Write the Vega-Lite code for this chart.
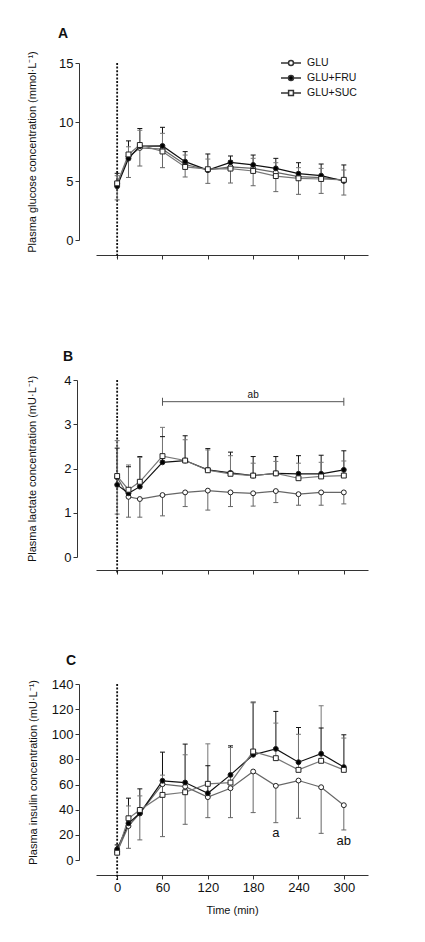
{
  "$schema": "https://vega.github.io/schema/vega-lite/v6.json",
  "padding": {"left": 26, "top": 26, "right": 5, "bottom": 5},
  "config": {
    "font": "Liberation Sans",
    "view": {"stroke": null},
    "axis": {
      "grid": false,
      "domainColor": "#333",
      "tickColor": "#333",
      "domainWidth": 1,
      "tickWidth": 1,
      "tickSize": 4,
      "labelFontSize": 13,
      "labelColor": "#111",
      "labelPadding": 2,
      "labelOverlap": false,
      "titleFontSize": 11,
      "titleFontWeight": "normal",
      "titleColor": "#111"
    },
    "title": {"fontSize": 14, "fontWeight": "bold", "anchor": "start", "frame": "group", "color": "#111"}
  },
  "datasets": {
    "glucose": [
      {"t": 0, "g": "GLU", "m": 4.8, "hi": null, "lo": 3.4},
      {"t": 0, "g": "GLU+FRU", "m": 4.55, "hi": 5.65, "lo": null},
      {"t": 0, "g": "GLU+SUC", "m": 4.8, "hi": 5.45, "lo": null},
      {"t": 15, "g": "GLU", "m": 7.05, "hi": null, "lo": 5.3},
      {"t": 15, "g": "GLU+FRU", "m": 6.9, "hi": 8.4, "lo": null},
      {"t": 15, "g": "GLU+SUC", "m": 7.25, "hi": 7.9, "lo": null},
      {"t": 30, "g": "GLU", "m": 7.8, "hi": null, "lo": 6.27},
      {"t": 30, "g": "GLU+FRU", "m": 7.95, "hi": 9.45, "lo": null},
      {"t": 30, "g": "GLU+SUC", "m": 8.05, "hi": 9.3, "lo": null},
      {"t": 60, "g": "GLU", "m": 7.7, "hi": null, "lo": 6.13},
      {"t": 60, "g": "GLU+FRU", "m": 7.97, "hi": 9.55, "lo": null},
      {"t": 60, "g": "GLU+SUC", "m": 7.5, "hi": 9.04, "lo": null},
      {"t": 90, "g": "GLU", "m": 6.4, "hi": null, "lo": 5.34},
      {"t": 90, "g": "GLU+FRU", "m": 6.64, "hi": 7.49, "lo": null},
      {"t": 90, "g": "GLU+SUC", "m": 6.19, "hi": 7.2, "lo": null},
      {"t": 120, "g": "GLU", "m": 5.95, "hi": null, "lo": 4.8},
      {"t": 120, "g": "GLU+FRU", "m": 5.92, "hi": 7.29, "lo": null},
      {"t": 120, "g": "GLU+SUC", "m": 6.0, "hi": 6.86, "lo": null},
      {"t": 150, "g": "GLU", "m": 6.2, "hi": null, "lo": 4.83},
      {"t": 150, "g": "GLU+FRU", "m": 6.58, "hi": 7.12, "lo": null},
      {"t": 150, "g": "GLU+SUC", "m": 6.05, "hi": 6.72, "lo": null},
      {"t": 180, "g": "GLU", "m": 6.07, "hi": null, "lo": 4.6},
      {"t": 180, "g": "GLU+FRU", "m": 6.36, "hi": 7.2, "lo": null},
      {"t": 180, "g": "GLU+SUC", "m": 5.85, "hi": 6.92, "lo": null},
      {"t": 210, "g": "GLU", "m": 5.73, "hi": null, "lo": 4.1},
      {"t": 210, "g": "GLU+FRU", "m": 6.07, "hi": 6.92, "lo": null},
      {"t": 210, "g": "GLU+SUC", "m": 5.42, "hi": 6.55, "lo": null},
      {"t": 240, "g": "GLU", "m": 5.37, "hi": null, "lo": 3.87},
      {"t": 240, "g": "GLU+FRU", "m": 5.62, "hi": 6.55, "lo": null},
      {"t": 240, "g": "GLU+SUC", "m": 5.23, "hi": 6.13, "lo": null},
      {"t": 270, "g": "GLU", "m": 5.28, "hi": null, "lo": 3.95},
      {"t": 270, "g": "GLU+FRU", "m": 5.45, "hi": 6.44, "lo": null},
      {"t": 270, "g": "GLU+SUC", "m": 5.17, "hi": 6.07, "lo": null},
      {"t": 300, "g": "GLU", "m": 5.08, "hi": null, "lo": 3.81},
      {"t": 300, "g": "GLU+FRU", "m": 5.0, "hi": 6.36, "lo": null},
      {"t": 300, "g": "GLU+SUC", "m": 5.1, "hi": 5.93, "lo": null}
    ],
    "lactate": [
      {"t": 0, "g": "GLU", "m": 1.8, "hi": null, "lo": 0.97},
      {"t": 0, "g": "GLU+FRU", "m": 1.63, "hi": 2.46, "lo": null},
      {"t": 0, "g": "GLU+SUC", "m": 1.83, "hi": 2.63, "lo": null},
      {"t": 15, "g": "GLU", "m": 1.36, "hi": null, "lo": 0.9},
      {"t": 15, "g": "GLU+FRU", "m": 1.44, "hi": 2.04, "lo": null},
      {"t": 15, "g": "GLU+SUC", "m": 1.52, "hi": 2.08, "lo": null},
      {"t": 30, "g": "GLU", "m": 1.31, "hi": null, "lo": 0.9},
      {"t": 30, "g": "GLU+FRU", "m": 1.59, "hi": 2.27, "lo": null},
      {"t": 30, "g": "GLU+SUC", "m": 1.7, "hi": 2.25, "lo": null},
      {"t": 60, "g": "GLU", "m": 1.4, "hi": null, "lo": 0.93},
      {"t": 60, "g": "GLU+FRU", "m": 2.14, "hi": 2.72, "lo": null},
      {"t": 60, "g": "GLU+SUC", "m": 2.28, "hi": 2.93, "lo": null},
      {"t": 90, "g": "GLU", "m": 1.46, "hi": null, "lo": 1.14},
      {"t": 90, "g": "GLU+FRU", "m": 2.18, "hi": 2.74, "lo": null},
      {"t": 90, "g": "GLU+SUC", "m": 2.18, "hi": 2.65, "lo": null},
      {"t": 120, "g": "GLU", "m": 1.5, "hi": null, "lo": 1.06},
      {"t": 120, "g": "GLU+FRU", "m": 1.97, "hi": 2.45, "lo": null},
      {"t": 120, "g": "GLU+SUC", "m": 1.96, "hi": 2.42, "lo": null},
      {"t": 150, "g": "GLU", "m": 1.46, "hi": null, "lo": 1.14},
      {"t": 150, "g": "GLU+FRU", "m": 1.9, "hi": 2.37, "lo": null},
      {"t": 150, "g": "GLU+SUC", "m": 1.88, "hi": 2.29, "lo": null},
      {"t": 180, "g": "GLU", "m": 1.44, "hi": null, "lo": 1.15},
      {"t": 180, "g": "GLU+FRU", "m": 1.84, "hi": 2.27, "lo": null},
      {"t": 180, "g": "GLU+SUC", "m": 1.84, "hi": 2.12, "lo": null},
      {"t": 210, "g": "GLU", "m": 1.49, "hi": null, "lo": 1.23},
      {"t": 210, "g": "GLU+FRU", "m": 1.89, "hi": 2.27, "lo": null},
      {"t": 210, "g": "GLU+SUC", "m": 1.89, "hi": 2.16, "lo": null},
      {"t": 240, "g": "GLU", "m": 1.42, "hi": null, "lo": 1.17},
      {"t": 240, "g": "GLU+FRU", "m": 1.88, "hi": 2.29, "lo": null},
      {"t": 240, "g": "GLU+SUC", "m": 1.78, "hi": 2.12, "lo": null},
      {"t": 270, "g": "GLU", "m": 1.46, "hi": null, "lo": 1.17},
      {"t": 270, "g": "GLU+FRU", "m": 1.88, "hi": 2.3, "lo": null},
      {"t": 270, "g": "GLU+SUC", "m": 1.82, "hi": 2.14, "lo": null},
      {"t": 300, "g": "GLU", "m": 1.46, "hi": null, "lo": 1.2},
      {"t": 300, "g": "GLU+FRU", "m": 1.97, "hi": 2.4, "lo": null},
      {"t": 300, "g": "GLU+SUC", "m": 1.84, "hi": 2.17, "lo": null}
    ],
    "insulin": [
      {"t": 0, "g": "GLU", "m": 6.5, "hi": null, "lo": null},
      {"t": 0, "g": "GLU+FRU", "m": 8.5, "hi": 12, "lo": null},
      {"t": 0, "g": "GLU+SUC", "m": 5.8, "hi": null, "lo": null},
      {"t": 15, "g": "GLU", "m": 27, "hi": null, "lo": 9.3},
      {"t": 15, "g": "GLU+FRU", "m": 29.2, "hi": 49.2, "lo": null},
      {"t": 15, "g": "GLU+SUC", "m": 33.2, "hi": 43, "lo": null},
      {"t": 30, "g": "GLU", "m": 37, "hi": null, "lo": 16},
      {"t": 30, "g": "GLU+FRU", "m": 37.2, "hi": 56.6, "lo": null},
      {"t": 30, "g": "GLU+SUC", "m": 39.8, "hi": 51, "lo": null},
      {"t": 60, "g": "GLU", "m": 60.3, "hi": null, "lo": 18.6},
      {"t": 60, "g": "GLU+FRU", "m": 63, "hi": 85.8, "lo": null},
      {"t": 60, "g": "GLU+SUC", "m": 51.8, "hi": 67.5, "lo": null},
      {"t": 90, "g": "GLU", "m": 58.4, "hi": null, "lo": 28.4},
      {"t": 90, "g": "GLU+FRU", "m": 61.6, "hi": 92.2, "lo": null},
      {"t": 90, "g": "GLU+SUC", "m": 53.9, "hi": 83.7, "lo": null},
      {"t": 120, "g": "GLU", "m": 50, "hi": null, "lo": 33.7},
      {"t": 120, "g": "GLU+FRU", "m": 53.1, "hi": 75, "lo": null},
      {"t": 120, "g": "GLU+SUC", "m": 60.6, "hi": 92.4, "lo": null},
      {"t": 150, "g": "GLU", "m": 57.1, "hi": null, "lo": 33.7},
      {"t": 150, "g": "GLU+FRU", "m": 67.7, "hi": 90.8, "lo": null},
      {"t": 150, "g": "GLU+SUC", "m": 61.6, "hi": 89.5, "lo": null},
      {"t": 180, "g": "GLU", "m": 70.4, "hi": null, "lo": 37.7},
      {"t": 180, "g": "GLU+FRU", "m": 83.7, "hi": 125.6, "lo": null},
      {"t": 180, "g": "GLU+SUC", "m": 86.3, "hi": 125, "lo": null},
      {"t": 210, "g": "GLU", "m": 59, "hi": null, "lo": 29.7},
      {"t": 210, "g": "GLU+FRU", "m": 88.4, "hi": 118.2, "lo": null},
      {"t": 210, "g": "GLU+SUC", "m": 81, "hi": 108.9, "lo": null},
      {"t": 240, "g": "GLU", "m": 63.2, "hi": null, "lo": 33.2},
      {"t": 240, "g": "GLU+FRU", "m": 77.8, "hi": 105.4, "lo": null},
      {"t": 240, "g": "GLU+SUC", "m": 71.7, "hi": 100, "lo": null},
      {"t": 270, "g": "GLU", "m": 57.9, "hi": null, "lo": 21.2},
      {"t": 270, "g": "GLU+FRU", "m": 84.5, "hi": 105, "lo": null},
      {"t": 270, "g": "GLU+SUC", "m": 78.9, "hi": 122.7, "lo": null},
      {"t": 300, "g": "GLU", "m": 43.6, "hi": null, "lo": 23.9},
      {"t": 300, "g": "GLU+FRU", "m": 73.9, "hi": 99.6, "lo": null},
      {"t": 300, "g": "GLU+SUC", "m": 71.7, "hi": 97, "lo": null}
    ]
  },
  "bounds": "flush",
  "spacing": 140,
  "resolve": {"legend": {"shape": "independent", "fill": "independent"}},
  "vconcat": [
    {
      "width": 272,
      "height": 177,
      "title": {"text": "A", "dx": -38, "offset": 10},
      "data": {"name": "glucose"},
      "resolve": {"scale": {"shape": "independent", "fill": "independent"}},
      "layer": [
        {
          "data": {"values": [{}]},
          "mark": {"type": "rule", "strokeDash": [2, 1.6], "strokeWidth": 1.8, "color": "#111"},
          "encoding": {
            "x": {"datum": 0, "type": "quantitative"},
            "y": {"datum": 15, "type": "quantitative"},
            "y2": {"datum": -1.5}
          }
        },
        {
          "transform": [{"filter": "isValid(datum.hi)"}],
          "mark": {"type": "rule", "strokeWidth": 1},
          "encoding": {
            "x": {"field": "t", "type": "quantitative"},
            "y": {"field": "m", "type": "quantitative"},
            "y2": {"field": "hi"},
            "color": {"field": "g", "type": "nominal", "scale": {"domain": ["GLU", "GLU+FRU", "GLU+SUC"], "range": ["#666", "#111", "#777"]}, "legend": null}
          }
        },
        {
          "transform": [{"filter": "isValid(datum.hi)"}],
          "mark": {"type": "tick", "orient": "horizontal", "size": 5, "thickness": 1, "opacity": 1},
          "encoding": {
            "x": {"field": "t", "type": "quantitative"},
            "y": {"field": "hi", "type": "quantitative"},
            "color": {"field": "g", "type": "nominal", "legend": null}
          }
        },
        {
          "transform": [{"filter": "isValid(datum.lo)"}],
          "mark": {"type": "rule", "strokeWidth": 1},
          "encoding": {
            "x": {"field": "t", "type": "quantitative"},
            "y": {"field": "lo", "type": "quantitative"},
            "y2": {"field": "m"},
            "color": {"field": "g", "type": "nominal", "legend": null}
          }
        },
        {
          "transform": [{"filter": "isValid(datum.lo)"}],
          "mark": {"type": "tick", "orient": "horizontal", "size": 5, "thickness": 1, "opacity": 1},
          "encoding": {
            "x": {"field": "t", "type": "quantitative"},
            "y": {"field": "lo", "type": "quantitative"},
            "color": {"field": "g", "type": "nominal", "legend": null}
          }
        },
        {
          "mark": {"type": "line", "strokeWidth": 1.2},
          "encoding": {
            "x": {"field": "t", "type": "quantitative", "scale": {"domain": [-28, 332], "nice": false, "zero": false},
              "axis": {"values": [0, 60, 120, 180, 240, 300], "tickCount": 10, "format": "d", "labels": false, "title": null, "offset": 15}},
            "y": {"field": "m", "type": "quantitative", "scale": {"domain": [0, 15], "nice": false},
              "axis": {"values": [0, 5, 10, 15], "tickCount": 10, "format": "d", "offset": 17, "title": "Plasma glucose concentration (mmol·L⁻¹)", "titlePadding": 21}},
            "color": {"field": "g", "type": "nominal", "legend": null}
          }
        },
        {
          "mark": {"type": "point", "size": 24, "stroke": "#222", "strokeWidth": 1, "opacity": 1},
          "encoding": {
            "x": {"field": "t", "type": "quantitative"},
            "y": {"field": "m", "type": "quantitative"},
            "shape": {"field": "g", "type": "nominal", "scale": {"domain": ["GLU", "GLU+FRU", "GLU+SUC"], "range": ["circle", "circle", "square"]}, "legend": null},
            "fill": {"field": "g", "type": "nominal", "scale": {"domain": ["GLU", "GLU+FRU", "GLU+SUC"], "range": ["white", "black", "white"]}, "legend": null}
          }
        },
        {
          "transform": [{"filter": "false"}],
          "mark": {"type": "point", "size": 24, "stroke": "#333", "strokeWidth": 1, "opacity": 1},
          "encoding": {
            "x": {"field": "t", "type": "quantitative"},
            "y": {"field": "m", "type": "quantitative"},
            "shape": {"field": "g", "type": "nominal",
              "scale": {"domain": ["GLU", "GLU+FRU", "GLU+SUC"], "range": [
                "M-1.25,0H-0.31M0.31,0H1.25M0.31,0A0.31,0.31,0,1,1,-0.31,0A0.31,0.31,0,1,1,0.31,0Z",
                "M-1.25,0H-0.31M0.31,0H1.25M0.31,0A0.31,0.31,0,1,1,-0.31,0A0.31,0.31,0,1,1,0.31,0Z",
                "M-1.25,0H-0.3M0.3,0H1.25M-0.3,-0.3H0.3V0.3H-0.3Z"]},
              "legend": {"orient": "none", "legendX": 186, "legendY": -9, "title": null, "padding": 0, "labelFontSize": 10.5, "labelColor": "#111", "labelOffset": 7, "rowPadding": -5, "symbolSize": 256}},
            "fill": {"field": "g", "type": "nominal",
              "scale": {"domain": ["GLU", "GLU+FRU", "GLU+SUC"], "range": ["white", "black", "white"]},
              "legend": {"orient": "none", "legendX": 186, "legendY": -9, "title": null, "padding": 0, "labelFontSize": 10.5, "labelColor": "#111", "labelOffset": 7, "rowPadding": -5, "symbolSize": 256}}
          }
        }
      ]
    },
    {
      "bounds": "flush",
      "spacing": 127,
      "vconcat": [
        {
          "width": 272,
          "height": 177,
          "title": {"text": "B", "dx": -33, "offset": 10},
          "data": {"name": "lactate"},
          "layer": [
            {
              "data": {"values": [{}]},
              "mark": {"type": "rule", "strokeDash": [2, 1.6], "strokeWidth": 1.8, "color": "#111"},
              "encoding": {
                "x": {"datum": 0, "type": "quantitative"},
                "y": {"datum": 4, "type": "quantitative"},
                "y2": {"datum": -0.35}
              }
            },
            {
              "data": {"values": [{"from": 60, "to": 300, "y": 3.51, "label": "ab", "ly": 3.67, "lx": 180}]},
              "layer": [
                {
                  "mark": {"type": "rule", "strokeWidth": 1, "color": "#555"},
                  "encoding": {
                    "x": {"field": "from", "type": "quantitative"},
                    "x2": {"field": "to"},
                    "y": {"field": "y", "type": "quantitative"}
                  }
                },
                {
                  "mark": {"type": "tick", "orient": "vertical", "size": 8, "thickness": 1, "color": "#555", "opacity": 1},
                  "encoding": {
                    "x": {"field": "from", "type": "quantitative"},
                    "y": {"field": "y", "type": "quantitative"}
                  }
                },
                {
                  "mark": {"type": "tick", "orient": "vertical", "size": 8, "thickness": 1, "color": "#555", "opacity": 1},
                  "encoding": {
                    "x": {"field": "to", "type": "quantitative"},
                    "y": {"field": "y", "type": "quantitative"}
                  }
                },
                {
                  "mark": {"type": "text", "fontSize": 10, "color": "#111", "baseline": "middle", "align": "center"},
                  "encoding": {
                    "x": {"field": "lx", "type": "quantitative"},
                    "y": {"field": "ly", "type": "quantitative"},
                    "text": {"field": "label"}
                  }
                }
              ]
            },
            {
              "transform": [{"filter": "isValid(datum.hi)"}],
              "mark": {"type": "rule", "strokeWidth": 1},
              "encoding": {
                "x": {"field": "t", "type": "quantitative"},
                "y": {"field": "m", "type": "quantitative"},
                "y2": {"field": "hi"},
                "color": {"field": "g", "type": "nominal", "scale": {"domain": ["GLU", "GLU+FRU", "GLU+SUC"], "range": ["#666", "#111", "#777"]}, "legend": null}
              }
            },
            {
              "transform": [{"filter": "isValid(datum.hi)"}],
              "mark": {"type": "tick", "orient": "horizontal", "size": 5, "thickness": 1, "opacity": 1},
              "encoding": {
                "x": {"field": "t", "type": "quantitative"},
                "y": {"field": "hi", "type": "quantitative"},
                "color": {"field": "g", "type": "nominal", "legend": null}
              }
            },
            {
              "transform": [{"filter": "isValid(datum.lo)"}],
              "mark": {"type": "rule", "strokeWidth": 1},
              "encoding": {
                "x": {"field": "t", "type": "quantitative"},
                "y": {"field": "lo", "type": "quantitative"},
                "y2": {"field": "m"},
                "color": {"field": "g", "type": "nominal", "legend": null}
              }
            },
            {
              "transform": [{"filter": "isValid(datum.lo)"}],
              "mark": {"type": "tick", "orient": "horizontal", "size": 5, "thickness": 1, "opacity": 1},
              "encoding": {
                "x": {"field": "t", "type": "quantitative"},
                "y": {"field": "lo", "type": "quantitative"},
                "color": {"field": "g", "type": "nominal", "legend": null}
              }
            },
            {
              "mark": {"type": "line", "strokeWidth": 1.2},
              "encoding": {
                "x": {"field": "t", "type": "quantitative", "scale": {"domain": [-28, 332], "nice": false, "zero": false},
                  "axis": {"values": [0, 60, 120, 180, 240, 300], "tickCount": 10, "format": "d", "labels": false, "title": null, "offset": 13}},
                "y": {"field": "m", "type": "quantitative", "scale": {"domain": [0, 4], "nice": false},
                  "axis": {"values": [0, 1, 2, 3, 4], "tickCount": 10, "format": "d", "offset": 19, "title": "Plasma lactate concentration (mU·L⁻¹)", "titlePadding": 26}},
                "color": {"field": "g", "type": "nominal", "legend": null}
              }
            },
            {
              "mark": {"type": "point", "size": 24, "stroke": "#222", "strokeWidth": 1, "opacity": 1},
              "encoding": {
                "x": {"field": "t", "type": "quantitative"},
                "y": {"field": "m", "type": "quantitative"},
                "shape": {"field": "g", "type": "nominal", "scale": {"domain": ["GLU", "GLU+FRU", "GLU+SUC"], "range": ["circle", "circle", "square"]}, "legend": null},
                "fill": {"field": "g", "type": "nominal", "scale": {"domain": ["GLU", "GLU+FRU", "GLU+SUC"], "range": ["white", "black", "white"]}, "legend": null}
              }
            }
          ]
        },
        {
          "width": 272,
          "height": 176,
          "title": {"text": "C", "dx": -30, "offset": 10},
          "data": {"name": "insulin"},
          "layer": [
            {
              "data": {"values": [{}]},
              "mark": {"type": "rule", "strokeDash": [2, 1.6], "strokeWidth": 1.8, "color": "#111"},
              "encoding": {
                "x": {"datum": 0, "type": "quantitative"},
                "y": {"datum": 140, "type": "quantitative"},
                "y2": {"datum": -16}
              }
            },
            {
              "data": {"values": [{"t": 210, "y": 21.5, "label": "a"}, {"t": 300, "y": 15.5, "label": "ab"}]},
              "mark": {"type": "text", "fontSize": 13, "color": "#111", "baseline": "middle", "align": "center"},
              "encoding": {
                "x": {"field": "t", "type": "quantitative"},
                "y": {"field": "y", "type": "quantitative"},
                "text": {"field": "label"}
              }
            },
            {
              "transform": [{"filter": "isValid(datum.hi)"}],
              "mark": {"type": "rule", "strokeWidth": 1},
              "encoding": {
                "x": {"field": "t", "type": "quantitative"},
                "y": {"field": "m", "type": "quantitative"},
                "y2": {"field": "hi"},
                "color": {"field": "g", "type": "nominal", "scale": {"domain": ["GLU", "GLU+FRU", "GLU+SUC"], "range": ["#666", "#111", "#777"]}, "legend": null}
              }
            },
            {
              "transform": [{"filter": "isValid(datum.hi)"}],
              "mark": {"type": "tick", "orient": "horizontal", "size": 5, "thickness": 1, "opacity": 1},
              "encoding": {
                "x": {"field": "t", "type": "quantitative"},
                "y": {"field": "hi", "type": "quantitative"},
                "color": {"field": "g", "type": "nominal", "legend": null}
              }
            },
            {
              "transform": [{"filter": "isValid(datum.lo)"}],
              "mark": {"type": "rule", "strokeWidth": 1},
              "encoding": {
                "x": {"field": "t", "type": "quantitative"},
                "y": {"field": "lo", "type": "quantitative"},
                "y2": {"field": "m"},
                "color": {"field": "g", "type": "nominal", "legend": null}
              }
            },
            {
              "transform": [{"filter": "isValid(datum.lo)"}],
              "mark": {"type": "tick", "orient": "horizontal", "size": 5, "thickness": 1, "opacity": 1},
              "encoding": {
                "x": {"field": "t", "type": "quantitative"},
                "y": {"field": "lo", "type": "quantitative"},
                "color": {"field": "g", "type": "nominal", "legend": null}
              }
            },
            {
              "mark": {"type": "line", "strokeWidth": 1.2},
              "encoding": {
                "x": {"field": "t", "type": "quantitative", "scale": {"domain": [-28, 332], "nice": false, "zero": false},
                  "axis": {"values": [0, 60, 120, 180, 240, 300], "tickCount": 10, "format": "d", "title": "Time (min)", "offset": 15, "labelPadding": 2, "titlePadding": 10}},
                "y": {"field": "m", "type": "quantitative", "scale": {"domain": [0, 140], "nice": false},
                  "axis": {"values": [0, 20, 40, 60, 80, 100, 120, 140], "tickCount": 10, "format": "d", "offset": 17, "title": "Plasma insulin concentration (mU·L⁻¹)", "titlePadding": 13}},
                "color": {"field": "g", "type": "nominal", "legend": null}
              }
            },
            {
              "mark": {"type": "point", "size": 24, "stroke": "#222", "strokeWidth": 1, "opacity": 1},
              "encoding": {
                "x": {"field": "t", "type": "quantitative"},
                "y": {"field": "m", "type": "quantitative"},
                "shape": {"field": "g", "type": "nominal", "scale": {"domain": ["GLU", "GLU+FRU", "GLU+SUC"], "range": ["circle", "circle", "square"]}, "legend": null},
                "fill": {"field": "g", "type": "nominal", "scale": {"domain": ["GLU", "GLU+FRU", "GLU+SUC"], "range": ["white", "black", "white"]}, "legend": null}
              }
            }
          ]
        }
      ]
    }
  ]
}
